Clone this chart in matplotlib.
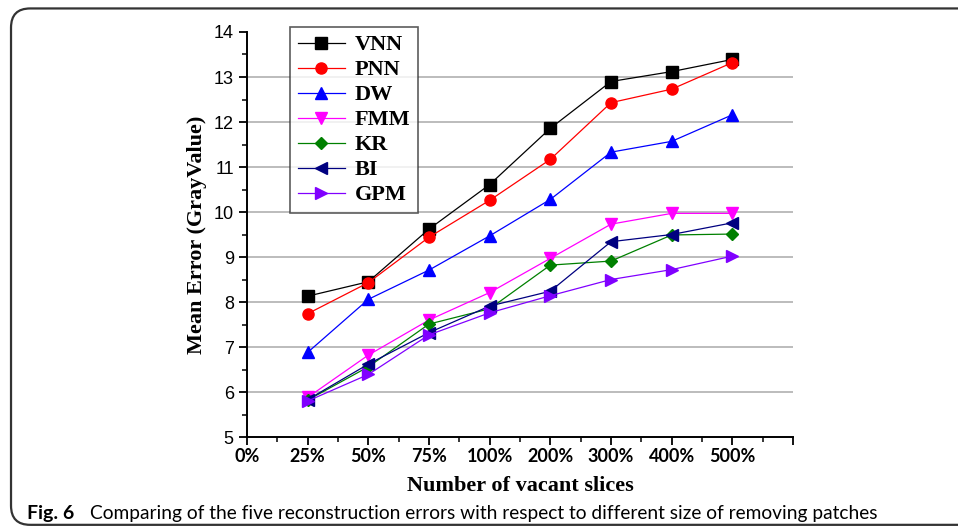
import numpy as np
import matplotlib.pyplot as plt
from matplotlib.patches import FancyBboxPatch
from matplotlib.ticker import MultipleLocator

cats = ['0%', '25%', '50%', '75%', '100%', '200%', '300%', '400%', '500%']
x = np.arange(1, 9)

vnn = [8.13, 8.45, 9.62, 10.61, 11.86, 12.9, 13.12, 13.39]
pnn = [7.74, 8.43, 9.44, 10.26, 11.17, 12.43, 12.73, 13.32]
dw = [6.88, 8.06, 8.71, 9.47, 10.28, 11.33, 11.57, 12.16]
fmm = [5.88, 6.82, 7.6, 8.21, 8.97, 9.73, 9.97, 9.97]
kr = [5.82, 6.56, 7.51, 7.85, 8.82, 8.91, 9.49, 9.51]
bi = [5.83, 6.62, 7.32, 7.91, 8.24, 9.34, 9.5, 9.76]
gpm = [5.8, 6.39, 7.27, 7.76, 8.14, 8.5, 8.72, 9.02]

series = [
    ('VNN', vnn, '#000000', 's'),
    ('PNN', pnn, '#ff0000', 'o'),
    ('DW', dw, '#0000ff', '^'),
    ('FMM', fmm, '#ff00ff', 'v'),
    ('KR', kr, '#008000', 'D'),
    ('BI', bi, '#000080', '<'),
    ('GPM', gpm, '#8000ff', '>'),
]

fig = plt.figure(figsize=(9.58, 5.28), dpi=100)

# outer frame with rounded left corners
frame = FancyBboxPatch((0.0115, 0.006), 1.2, 0.978, boxstyle='round,pad=0,rounding_size=0.02',
                       transform=fig.transFigure, fill=False, edgecolor='#333333', linewidth=1.6,
                       mutation_aspect=958 / 528)
fig.patches.append(frame)

ax = fig.add_axes([0.2578, 0.1723, 0.57, 0.7671])

for y in range(6, 14):
    ax.axhline(y, color='#b0b0b0', linewidth=1.2, zorder=0)

for name, vals, col, mk in series:
    ms = 8 if mk in ('s', 'o') else 8.5
    if mk == 'D':
        ms = 6.5
    ax.plot(x, vals, color=col, linewidth=0.9, marker=mk, markersize=ms,
            markeredgecolor=col, markerfacecolor=col, label=name)

ax.set_xlim(0, 9)
ax.set_ylim(5, 14)
ax.spines['top'].set_visible(False)
ax.spines['right'].set_visible(False)
ax.spines['left'].set_linewidth(1.4)
ax.spines['bottom'].set_linewidth(1.4)

ax.set_xticks(range(0, 10))
ax.set_xticklabels(cats + [''], fontfamily='Lato', fontweight='bold', fontsize=13)
ax.xaxis.set_minor_locator(MultipleLocator(0.5))
ax.yaxis.set_major_locator(MultipleLocator(1))
ax.yaxis.set_minor_locator(MultipleLocator(0.5))
ax.tick_params(axis='both', which='major', direction='out', length=6, width=1.3)
ax.tick_params(axis='both', which='minor', direction='out', length=3.5, width=1.1)
ax.tick_params(axis='x', pad=2)
for lab in ax.get_yticklabels():
    lab.set_fontfamily('Liberation Sans')
    lab.set_fontsize(13)

ax.set_xlabel('Number of vacant slices', fontfamily='Liberation Serif', fontweight='bold',
              fontsize=16, labelpad=8)
ax.set_ylabel('Mean Error (GrayValue)', fontfamily='Liberation Serif', fontweight='bold',
              fontsize=16, labelpad=5)

leg = ax.legend(loc='upper left', bbox_to_anchor=(0.079, 1.012), borderaxespad=0, frameon=True,
                fancybox=False, edgecolor='#333333', handlelength=2.1, labelspacing=0.2,
                borderpad=0.35, handletextpad=0.45,
                prop={'family': 'Liberation Serif', 'weight': 'bold', 'size': 16})
leg.get_frame().set_linewidth(1.2)

fig.text(0.028, 0.017, 'Fig. 6', fontfamily='Lato', fontweight='bold', fontsize=14)
fig.text(0.094, 0.017, 'Comparing of the five reconstruction errors with respect to different size of removing patches',
         fontfamily='Lato', fontsize=13.8)

fig.savefig('out.png', dpi=100)
